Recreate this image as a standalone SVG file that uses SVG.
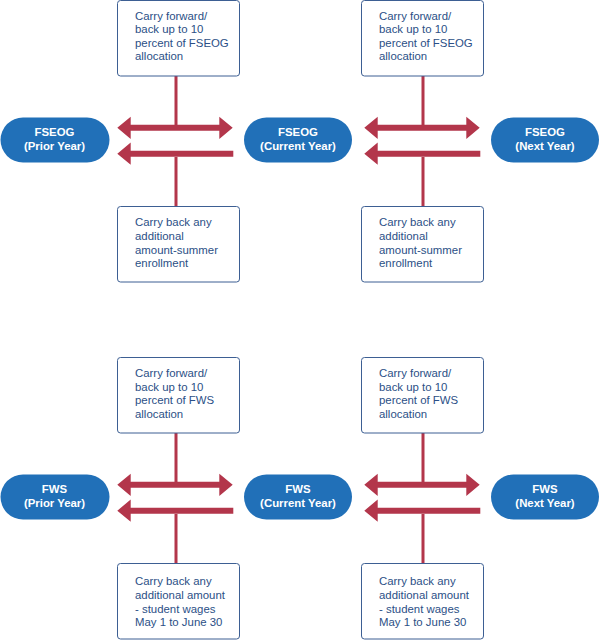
<svg xmlns="http://www.w3.org/2000/svg" width="600" height="640" viewBox="0 0 600 640">
<style>
.box{fill:#fff;stroke:#3d5f93;stroke-width:1}
.bt{font-family:"Liberation Sans",Arial,sans-serif;font-size:11.4px;fill:#2b4f86}
.pill{fill:#2170b8}
.pt{font-family:"Liberation Sans",Arial,sans-serif;font-size:11.4px;font-weight:bold;fill:#fff;text-anchor:middle}
.arr{fill:#b3364b}
.vl{stroke:#b3364b;stroke-width:3;fill:none}
</style>
<rect width="600" height="640" fill="#fff"/>
<g id="connectors">
<path class="vl" d="M176,76V125M176,157V206M423,76V125M423,157V206M176,433V482M176,514V563M423,433V482M423,514V563"/>
<path id="c1" class="arr" d="M117.3,127.8L130.7,116.7V124.8H219.3V116.7L232.7,127.8L219.3,138.9V130.8H130.7V138.9Z"/>
<path id="c2" class="arr" d="M117.3,153.7L130.7,142.6V150.7H233.3V156.7H130.7V164.8Z"/>
<path id="c3" class="arr" transform="translate(247,0)" d="M117.3,127.8L130.7,116.7V124.8H219.3V116.7L232.7,127.8L219.3,138.9V130.8H130.7V138.9Z"/>
<path id="c4" class="arr" transform="translate(247,0)" d="M117.3,153.7L130.7,142.6V150.7H233.3V156.7H130.7V164.8Z"/>
<path id="c5" class="arr" transform="translate(0,357)" d="M117.3,127.8L130.7,116.7V124.8H219.3V116.7L232.7,127.8L219.3,138.9V130.8H130.7V138.9Z"/>
<path id="c6" class="arr" transform="translate(0,357)" d="M117.3,153.7L130.7,142.6V150.7H233.3V156.7H130.7V164.8Z"/>
<path id="c7" class="arr" transform="translate(247,357)" d="M117.3,127.8L130.7,116.7V124.8H219.3V116.7L232.7,127.8L219.3,138.9V130.8H130.7V138.9Z"/>
<path id="c8" class="arr" transform="translate(247,357)" d="M117.3,153.7L130.7,142.6V150.7H233.3V156.7H130.7V164.8Z"/>
</g>
<g id="fseog-prior"><rect class="pill" x="0.5" y="117.5" width="109" height="45" rx="22.5"/><text class="pt" x="54.5" y="136">FSEOG</text><text class="pt" x="54.5" y="149.5">(Prior Year)</text></g>
<g id="fseog-current"><rect class="pill" x="244" y="117.5" width="108" height="45" rx="22.5"/><text class="pt" x="298" y="136">FSEOG</text><text class="pt" x="298" y="149.5">(Current Year)</text></g>
<g id="fseog-next"><rect class="pill" x="491" y="117.5" width="108" height="45" rx="22.5"/><text class="pt" x="545" y="136">FSEOG</text><text class="pt" x="545" y="149.5">(Next Year)</text></g>
<g id="fseog-fwd1"><rect class="box" x="117.5" y="0.5" width="122" height="75.5" rx="3"/><text class="bt" x="135" y="19.5">Carry forward/</text><text class="bt" x="135" y="33">back up to 10</text><text class="bt" x="135" y="46.5">percent of FSEOG</text><text class="bt" x="135" y="60">allocation</text></g>
<g id="fseog-fwd2"><rect class="box" x="361.5" y="0.5" width="122" height="75.5" rx="3"/><text class="bt" x="379" y="19.5">Carry forward/</text><text class="bt" x="379" y="33">back up to 10</text><text class="bt" x="379" y="46.5">percent of FSEOG</text><text class="bt" x="379" y="60">allocation</text></g>
<g id="fseog-back1"><rect class="box" x="117.5" y="206.5" width="122" height="75.5" rx="3"/><text class="bt" x="135" y="226">Carry back any</text><text class="bt" x="135" y="240">additional</text><text class="bt" x="135" y="253.5">amount-summer</text><text class="bt" x="135" y="267">enrollment</text></g>
<g id="fseog-back2"><rect class="box" x="361.5" y="206.5" width="122" height="75.5" rx="3"/><text class="bt" x="379" y="226">Carry back any</text><text class="bt" x="379" y="240">additional</text><text class="bt" x="379" y="253.5">amount-summer</text><text class="bt" x="379" y="267">enrollment</text></g>
<g id="fws-prior"><rect class="pill" x="0.5" y="474.5" width="109" height="45" rx="22.5"/><text class="pt" x="54.5" y="493">FWS</text><text class="pt" x="54.5" y="506.5">(Prior Year)</text></g>
<g id="fws-current"><rect class="pill" x="244" y="474.5" width="108" height="45" rx="22.5"/><text class="pt" x="298" y="493">FWS</text><text class="pt" x="298" y="506.5">(Current Year)</text></g>
<g id="fws-next"><rect class="pill" x="491" y="474.5" width="108" height="45" rx="22.5"/><text class="pt" x="545" y="493">FWS</text><text class="pt" x="545" y="506.5">(Next Year)</text></g>
<g id="fws-fwd1"><rect class="box" x="117.5" y="357.5" width="122" height="75.5" rx="3"/><text class="bt" x="135" y="377.3">Carry forward/</text><text class="bt" x="135" y="390.7">back up to 10</text><text class="bt" x="135" y="404.3">percent of FWS</text><text class="bt" x="135" y="417.7">allocation</text></g>
<g id="fws-fwd2"><rect class="box" x="361.5" y="357.5" width="122" height="75.5" rx="3"/><text class="bt" x="379" y="377.3">Carry forward/</text><text class="bt" x="379" y="390.7">back up to 10</text><text class="bt" x="379" y="404.3">percent of FWS</text><text class="bt" x="379" y="417.7">allocation</text></g>
<g id="fws-back1"><rect class="box" x="117.5" y="563.5" width="122" height="75.5" rx="3"/><text class="bt" x="135" y="585.3">Carry back any</text><text class="bt" x="135" y="598.7">additional amount</text><text class="bt" x="135" y="612.7">- student wages</text><text class="bt" x="135" y="626">May 1 to June 30</text></g>
<g id="fws-back2"><rect class="box" x="361.5" y="563.5" width="122" height="75.5" rx="3"/><text class="bt" x="379" y="585.3">Carry back any</text><text class="bt" x="379" y="598.7">additional amount</text><text class="bt" x="379" y="612.7">- student wages</text><text class="bt" x="379" y="626">May 1 to June 30</text></g>
</svg>
